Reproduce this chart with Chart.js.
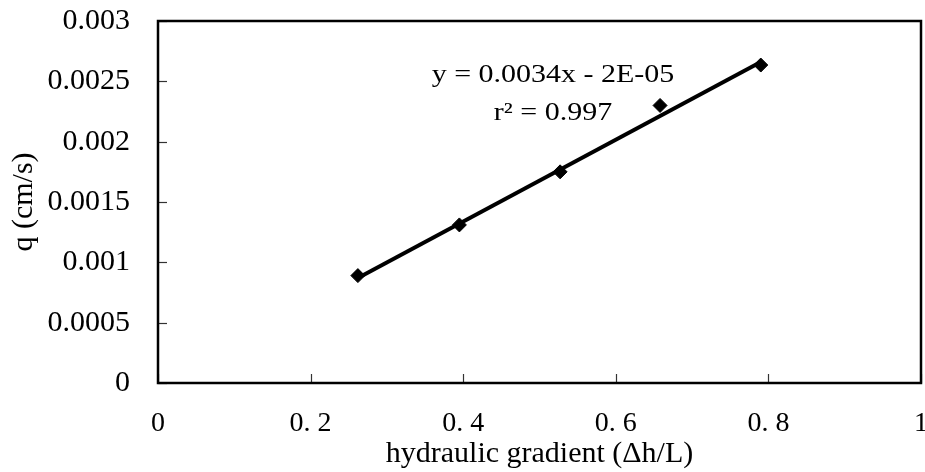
<!DOCTYPE html>
<html>
<head>
<meta charset="utf-8">
<script src="https://cdn.jsdelivr.net/npm/chart.js@4/dist/chart.umd.min.js"></script>
<style>
html,body{margin:0;padding:0;background:#fff;overflow:hidden;}
#wrap{width:925px;height:472px;position:relative;overflow:hidden;}
</style>
</head>
<body>
<div id="wrap"><canvas id="c" width="929" height="472"></canvas></div>
<script>
// Data
const gradientX = [0.262, 0.395, 0.527, 0.658, 0.790];
const flowQ = [0.00089, 0.00131, 0.00175, 0.00230, 0.002635];
// Trend line endpoints (as drawn in the reference)
const trendX = [0.262, 0.790];
const trendY = [0.00087, 0.00266];
// Tick labels
const xTickLabels = ['0', '0. 2', '0. 4', '0. 6', '0. 8', '1'];
const yTickLabels = ['0', '0.0005', '0.001', '0.0015', '0.002', '0.0025', '0.003'];
const eqLines = ['y = 0.0034x - 2E-05', 'r\u00B2 = 0.997'];
const xTitle = 'hydraulic gradient (\u0394h/L)';
const yTitle = 'q (cm/s)';

const FONT = "'Liberation Serif', 'Times New Roman', serif";

const framePlugin = {
  id: 'frame',
  afterDatasetsDraw(chart) {
    const {ctx, chartArea: a, scales} = chart;
    ctx.save();
    // inward tick marks
    ctx.strokeStyle = '#333';
    ctx.lineWidth = 1.2;
    scales.x.ticks.forEach(t => {
      const px = Math.round(scales.x.getPixelForValue(t.value)) + 0.5;
      ctx.beginPath(); ctx.moveTo(px, a.bottom); ctx.lineTo(px, a.bottom - 9); ctx.stroke();
    });
    scales.y.ticks.forEach(t => {
      const py = Math.round(scales.y.getPixelForValue(t.value)) + 0.5;
      ctx.beginPath(); ctx.moveTo(a.left, py); ctx.lineTo(a.left + 9, py); ctx.stroke();
    });
    // frame
    ctx.strokeStyle = '#000';
    ctx.lineWidth = 2.5;
    ctx.strokeRect(a.left, a.top, a.right - a.left, a.bottom - a.top);
    // equation text (horizontally stretched like the reference)
    ctx.fillStyle = '#000';
    ctx.font = '25px ' + FONT;
    ctx.textAlign = 'center';
    ctx.textBaseline = 'alphabetic';
    const cx = 553;
    const baselines = [82, 120];
    eqLines.forEach((s, i) => {
      ctx.save();
      ctx.translate(cx, baselines[i]);
      ctx.scale(1.2, 1);
      ctx.fillText(s, 0, 0);
      ctx.restore();
    });
    ctx.restore();
  }
};

new Chart(document.getElementById('c'), {
  type: 'scatter',
  data: {
    datasets: [
      {
        label: 'data',
        data: gradientX.map((x, i) => ({x: x, y: flowQ[i]})),
        pointStyle: 'rectRot',
        pointRadius: 7,
        pointBackgroundColor: '#000',
        pointBorderColor: '#000',
        pointBorderWidth: 1,
        showLine: false,
        order: 0
      },
      {
        label: 'trend',
        data: trendX.map((x, i) => ({x: x, y: trendY[i]})),
        showLine: true,
        borderColor: '#000',
        borderWidth: 4,
        pointRadius: 0,
        order: 1
      }
    ]
  },
  options: {
    responsive: false,
    animation: false,
    events: [],
    layout: {padding: {top: 21, right: 0, left: 0, bottom: 0}},
    plugins: {legend: {display: false}, tooltip: {enabled: false}},
    scales: {
      x: {
        type: 'linear',
        min: 0, max: 1,
        grid: {display: false, drawTicks: false},
        border: {display: false},
        ticks: {
          stepSize: 0.2,
          padding: 24,
          color: '#000',
          font: {family: FONT, size: 28},
          maxRotation: 0,
          callback: (v) => xTickLabels[Math.round(v / 0.2)]
        },
        title: {display: true, text: xTitle, color: '#000', font: {family: FONT, size: 30}, padding: {top: 0, bottom: 0}},
        afterFit: (s) => { s.height = 89; s.paddingLeft = 0; s.paddingRight = 0; }
      },
      y: {
        type: 'linear',
        min: 0, max: 0.003,
        grid: {display: false, drawTicks: false},
        border: {display: false},
        ticks: {
          stepSize: 0.0005,
          padding: 28,
          color: '#000',
          font: {family: FONT, size: 30},
          callback: (v) => yTickLabels[Math.round(v / 0.0005)]
        },
        title: {display: true, text: yTitle, color: '#000', font: {family: FONT, size: 30}, padding: {top: 6, bottom: 6}},
        afterFit: (s) => { s.width = 158; s.paddingTop = 0; s.paddingBottom = 0; }
      }
    }
  },
  plugins: [framePlugin]
});
</script>
</body>
</html>
